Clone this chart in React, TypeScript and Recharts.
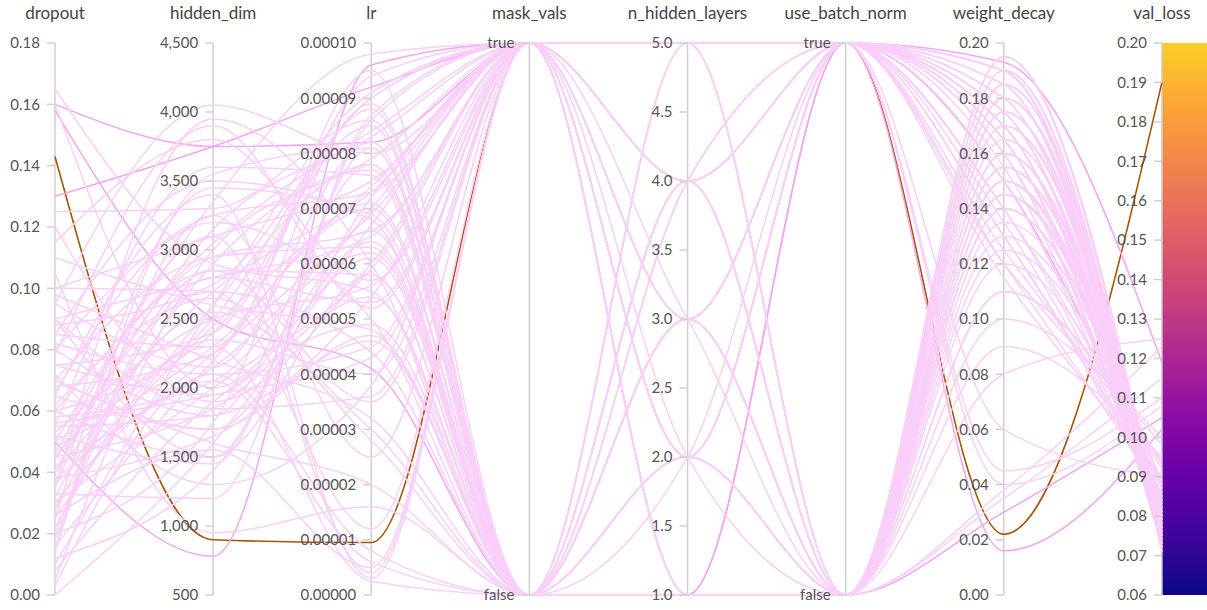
import React from 'react';
import { LineChart, Line, XAxis, YAxis, ReferenceLine, ReferenceDot, ReferenceArea } from 'recharts';

const dimensions = ['dropout', 'hidden_dim', 'lr', 'mask_vals', 'n_hidden_layers', 'use_batch_norm', 'weight_decay', 'val_loss'];

// one entry per run (index 0 is the highlighted run)
const dropout = [
  0.143, 0.16, 0.13, 0.158, 0.05, 0.04, 0.09, 0.07,
  0.165, 0.16, 0.125, 0.12, 0.11, 0.1, 0.098, 0.095, 0.09, 0.088, 0.085, 0.082, 0.08, 0.078, 0.075, 0.072,
  0.07, 0.068, 0.066, 0.065, 0.062, 0.06, 0.058, 0.056, 0.055, 0.053, 0.052, 0.05, 0.048, 0.046, 0.045, 0.044,
  0.042, 0.04, 0.038, 0.036, 0.035, 0.033, 0.032, 0.03, 0.028, 0.026, 0.025, 0.022, 0.02, 0.018, 0.016, 0.014,
  0.012, 0.01, 0.008, 0.005, 0.003, 0.0, 0.105, 0.115,
  0.06, 0.045, 0.075, 0.035, 0.085, 0.055, 0.025, 0.065, 0.095, 0.04, 0.07, 0.05, 0.03, 0.08, 0.02, 0.06,
  0.1, 0.038, 0.015, 0.09,
];
const hiddenDim = [
  900, 3750, 3750, 2500, 780, 2300, 2800, 1600,
  2900, 2000, 3300, 1900, 2600, 3100, 2200, 4050, 1500, 2750, 3500, 2100, 1800, 3900, 2400, 1300,
  2950, 2250, 3200, 1700, 2650, 3050, 2050, 1950, 3600, 2500, 1450, 2850, 2300, 3350, 1850, 2700,
  2150, 3150, 1650, 2450, 3950, 1200, 2550, 2000, 2900, 1550, 3450, 2350, 1750, 2800, 2200, 3250,
  1400, 2600, 1900, 3000, 2100, 1600, 950, 3800,
  2400, 2700, 1950, 3100, 2300, 1800, 2600, 3400, 2150, 2950, 1700, 2500, 2050, 3250, 2850, 1500,
  2700, 2250, 3550, 1850,
];
const lr = [
  0.0000095, 0.000082, 0.000092, 0.000041, 0.000096, 0.0000025, 0.000065, 0.00002,
  0.000055, 0.00007, 0.000086, 0.00006, 0.000048, 0.000075, 0.000032, 0.00008, 0.000058, 0.00009, 0.000068, 0.000045, 0.000078, 0.000052, 0.000088, 0.000038,
  0.000063, 0.000094, 0.00005, 0.000072, 0.000028, 0.000084, 0.000066, 0.000043, 0.000076, 0.000056, 0.000081, 0.000035, 0.00007, 0.000098, 0.000054, 0.000012,
  0.000062, 0.000083, 0.000046, 0.000074, 0.00006, 0.000087, 0.00003, 0.000059, 0.000077, 0.000005, 0.000069, 0.00004, 0.000089, 0.000053, 0.000071, 0.000025,
  0.000064, 0.000091, 0.000049, 0.000079, 0.000008, 0.000067, 0.000016, 0.000057,
  0.000085, 0.000073, 0.000061, 0.000004, 0.000095, 0.000054, 0.000078, 0.000003, 0.000082, 0.000066, 0.000047, 0.00009, 0.000006, 0.000073, 0.000058, 0.000086,
  0.000044, 0.000069, 0.000081, 0.000036,
];
const maskVals = [
  true, true, true, false, true, false, true, false,
  false, true, false, true, false, true, false, true, false, true, false, true, false, true, false, true,
  false, true, false, true, false, true, false, true, false, true, false, true, false, true, false, true,
  false, true, false, true, false, true, false, true, false, true, false, true, false, true, false, true,
  false, true, false, true, false, true, false, true,
  false, true, false, true, false, true, false, true, false, true, false, true, false, true, false, true,
  false, true, false, true,
];
const nHiddenLayers = [
  5, 4, 1, 3, 1, 2, 3, 4,
  2, 4, 3, 2, 1, 5, 4, 3, 2, 4, 5, 1, 3, 2, 4, 3,
  1, 5, 4, 2, 3, 4, 2, 3, 5, 1, 4, 2, 3, 4, 2, 3,
  5, 1, 4, 2, 3, 4, 2, 3, 1, 5, 4, 2, 3, 4, 2, 3,
  5, 1, 4, 2, 3, 4, 2, 3,
  3, 2, 4, 3, 2, 4, 5, 1, 3, 2, 4, 3, 2, 4, 3, 2,
  4, 5, 3, 2,
];
const useBatchNorm = [
  true, true, true, false, true, false, true, true,
  false, true, false, true, false, true, false, true, false, true, false, false, false, true, false, true,
  false, true, false, true, false, true, false, true, false, false, false, true, false, true, false, true,
  false, false, true, true, false, true, false, true, false, true, false, false, false, true, false, true,
  false, false, true, true, false, true, false, true,
  false, true, false, false, true, true, false, false, false, true, false, true, false, true, false, true,
  false, true, false, true,
];
const weightDecay = [
  0.022, 0.193, 0.15, 0.03, 0.016, 0.038, 0.12, 0.06,
  0.18, 0.17, 0.15, 0.19, 0.14, 0.185, 0.16, 0.13, 0.175, 0.12, 0.155, 0.145, 0.19, 0.165, 0.11, 0.175,
  0.14, 0.16, 0.185, 0.125, 0.15, 0.19, 0.135, 0.17, 0.1, 0.18, 0.145, 0.16, 0.195, 0.115, 0.17, 0.13,
  0.185, 0.155, 0.14, 0.175, 0.09, 0.165, 0.19, 0.045, 0.15, 0.18, 0.125, 0.16, 0.195, 0.04, 0.14, 0.17,
  0.185, 0.11, 0.155, 0.175, 0.035, 0.19, 0.08, 0.165,
  0.17, 0.16, 0.18, 0.15, 0.19, 0.135, 0.175, 0.12, 0.165, 0.185, 0.145, 0.17, 0.155, 0.19, 0.13, 0.18,
  0.16, 0.14, 0.175, 0.15,
];
const valLoss = [
  0.19, 0.119, 0.085, 0.105, 0.102, 0.123, 0.1, 0.09,
  0.075, 0.08, 0.072, 0.078, 0.082, 0.074, 0.077, 0.083, 0.071, 0.086, 0.079, 0.088, 0.073, 0.076, 0.092, 0.08,
  0.084, 0.075, 0.072, 0.094, 0.081, 0.077, 0.087, 0.074, 0.098, 0.079, 0.083, 0.076, 0.073, 0.09, 0.078, 0.085,
  0.071, 0.08, 0.088, 0.075, 0.095, 0.077, 0.072, 0.11, 0.082, 0.079, 0.089, 0.074, 0.076, 0.108, 0.084, 0.078,
  0.073, 0.093, 0.08, 0.076, 0.115, 0.075, 0.125, 0.081,
  0.074, 0.078, 0.072, 0.081, 0.076, 0.083, 0.073, 0.087, 0.077, 0.075, 0.08, 0.074, 0.079, 0.072, 0.085, 0.076,
  0.078, 0.082, 0.075, 0.08,
];

const highlightedRun = 0;
const brightRuns = [1, 2, 3, 4];

// tick values per axis
const dropoutTicks = [0, 0.02, 0.04, 0.06, 0.08, 0.1, 0.12, 0.14, 0.16, 0.18];
const hiddenDimTicks = [500, 1000, 1500, 2000, 2500, 3000, 3500, 4000, 4500];
const lrTicks = [0, 0.00001, 0.00002, 0.00003, 0.00004, 0.00005, 0.00006, 0.00007, 0.00008, 0.00009, 0.0001];
const boolTicks = ['false', 'true'];
const nHiddenLayersTicks = [1, 1.5, 2, 2.5, 3, 3.5, 4, 4.5, 5];
const weightDecayTicks = [0, 0.02, 0.04, 0.06, 0.08, 0.1, 0.12, 0.14, 0.16, 0.18, 0.2];
const valLossTicks = [0.06, 0.07, 0.08, 0.09, 0.1, 0.11, 0.12, 0.13, 0.14, 0.15, 0.16, 0.17, 0.18, 0.19, 0.2];

const domains: [number, number][] = [
  [0, 0.18], [500, 4500], [0, 0.0001], [0, 1], [1, 5], [0, 1], [0, 0.2], [0.06, 0.2],
];

const norm = (d: number, v: number) => (v - domains[d][0]) / (domains[d][1] - domains[d][0]);

const columns: number[][] = [
  dropout,
  hiddenDim,
  lr,
  maskVals.map((b) => (b ? 1 : 0)),
  nHiddenLayers,
  useBatchNorm.map((b) => (b ? 1 : 0)),
  weightDecay,
  valLoss,
];

const data = dimensions.map((name, d) => {
  const row: Record<string, number | string> = { x: d, name };
  columns[d].forEach((v, i) => {
    row[`r${i}`] = norm(d, v);
  });
  return row;
});

const axisTicks = [
  dropoutTicks.map((v) => ({ y: norm(0, v), label: v.toFixed(2) })),
  hiddenDimTicks.map((v) => ({ y: norm(1, v), label: v.toLocaleString('en-US') })),
  lrTicks.map((v) => ({ y: norm(2, v), label: v.toFixed(5) })),
  boolTicks.map((t, i) => ({ y: i, label: t })),
  nHiddenLayersTicks.map((v) => ({ y: norm(4, v), label: v.toFixed(1) })),
  boolTicks.map((t, i) => ({ y: i, label: t })),
  weightDecayTicks.map((v) => ({ y: norm(6, v), label: v.toFixed(2) })),
  valLossTicks.map((v) => ({ y: norm(7, v), label: v.toFixed(2) })),
];

const PALE = '#f9cff9';
const BRIGHT = '#f5a3f5';
const BROWN = '#a65600';
const AXIS = '#d0d0d0';
const FONT = 'Lato, "Noto Sans", sans-serif';
const TICK_LEN = 0.05;
const BAR_W = 0.285;

const plasma = ['#0d0887', '#41049d', '#6a00a8', '#8f0da4', '#b12a90', '#cc4778', '#e16462', '#f2844b', '#fca636', '#fcce25'];

export default function App() {
  const runIds = dropout.map((_, i) => i);
  const paleRuns = runIds.filter((i) => i !== highlightedRun && !brightRuns.includes(i));

  return (
    <div>
      <style>{`body{margin:0}`}</style>
      <LineChart width={1207} height={610} data={data} margin={{ top: 43, right: 0, bottom: 15, left: 55 }}>
        <defs>
          <linearGradient id="plasma" x1="0" y1="1" x2="0" y2="0">
            {plasma.map((c, i) => (
              <stop key={c} offset={`${(i / (plasma.length - 1)) * 100}%`} stopColor={c} />
            ))}
          </linearGradient>
        </defs>
        <XAxis type="number" dataKey="x" domain={[0, 7 + BAR_W]} hide />
        <YAxis type="number" domain={[0, 1]} hide />

        {dimensions.map((name, d) => (
          <ReferenceLine
            key={`axis-${name}`}
            x={d}
            stroke={AXIS}
            strokeWidth={1.5}
            ifOverflow="visible"
            label={{ value: name, position: 'top', offset: 24, fill: '#444', fontSize: 17, fontFamily: FONT }}
          />
        ))}

        <Line dataKey={`r${highlightedRun}`} type="monotone" stroke={BROWN} strokeWidth={1.6} dot={false} activeDot={false} isAnimationActive={false} />
        {brightRuns.map((i) => (
          <Line key={i} dataKey={`r${i}`} type="monotone" stroke={BRIGHT} strokeWidth={1.5} dot={false} activeDot={false} isAnimationActive={false} />
        ))}
        {paleRuns.map((i) => (
          <Line key={i} dataKey={`r${i}`} type="monotone" stroke={PALE} strokeWidth={1.5} dot={false} activeDot={false} isAnimationActive={false} />
        ))}

        <ReferenceArea x1={7} x2={7 + BAR_W} y1={0} y2={1} fill="url(#plasma)" fillOpacity={1} stroke="none" ifOverflow="visible" />

        {axisTicks.map((ticks, d) =>
          ticks.map((t) => (
            <ReferenceLine
              key={`tick-${d}-${t.label}`}
              segment={[{ x: d - TICK_LEN, y: t.y }, { x: d, y: t.y }]}
              stroke={AXIS}
              strokeWidth={1.5}
              ifOverflow="visible"
            />
          ))
        )}
        {axisTicks.map((ticks, d) =>
          ticks.map((t) => (
            <ReferenceDot
              key={`label-${d}-${t.label}`}
              x={d}
              y={t.y}
              r={0}
              stroke="none"
              ifOverflow="visible"
              label={{ value: t.label, position: 'left', offset: 15, fill: '#555', fontSize: 15, fontFamily: FONT }}
            />
          ))
        )}
      </LineChart>
    </div>
  );
}
